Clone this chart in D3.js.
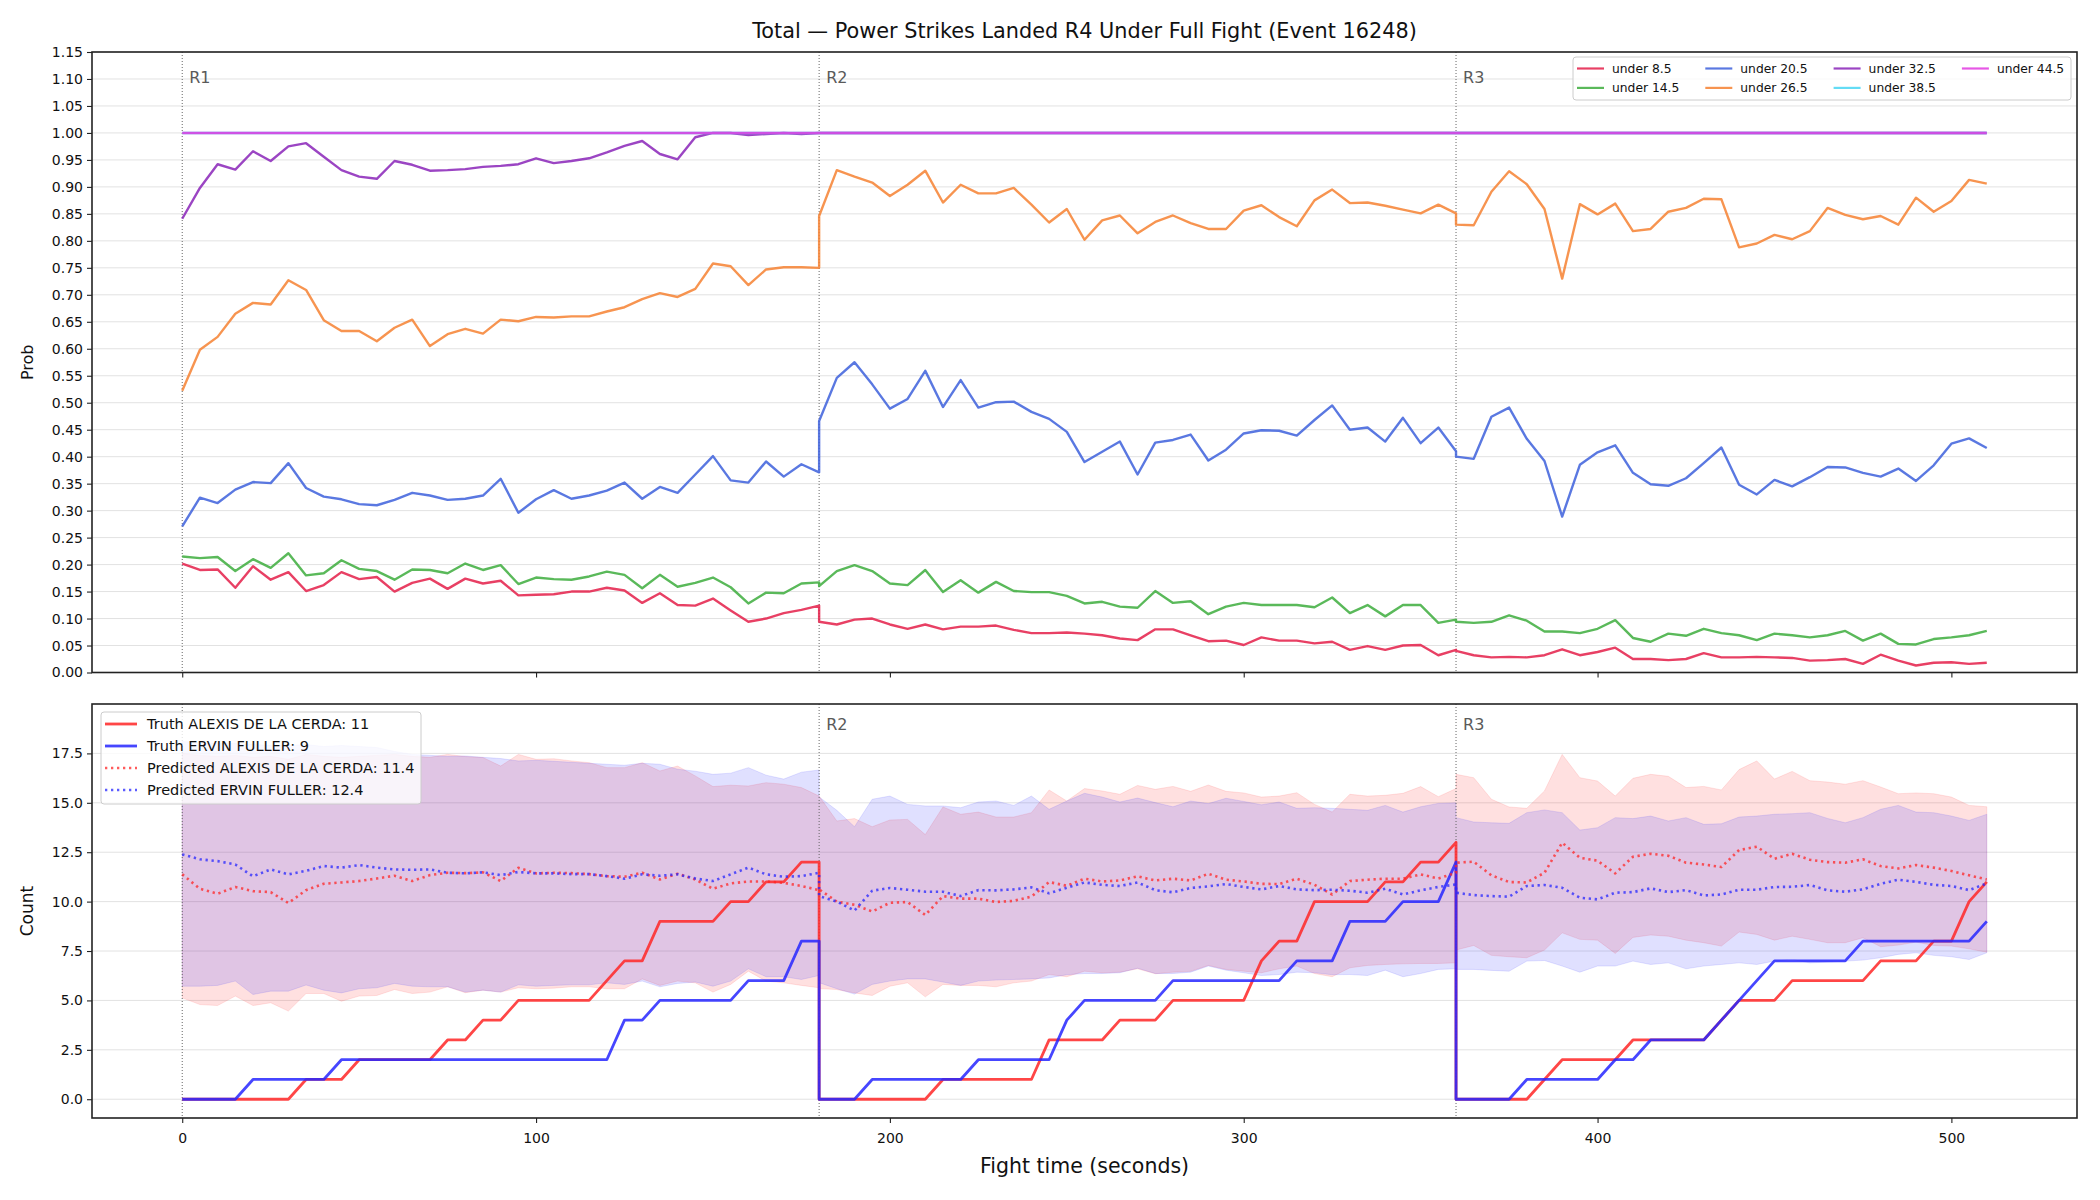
<!DOCTYPE html>
<html>
<head>
<meta charset="utf-8">
<script src="https://cdn.jsdelivr.net/npm/d3@7"></script>
<style>
  body { margin: 0; background: #fff; }
  svg { font-family: "DejaVu Sans", sans-serif; }
</style>
</head>
<body>
<svg id="chart" width="2100" height="1200"></svg>
<script>
// sample times (s); round boundaries appear twice so the reset is drawn as a vertical jump
const times = [
  0,5,10,15,20,25,30,35,40,45,50,55,60,65,70,75,80,85,90,95,100,105,110,115,120,125,130,135,140,145,150,155,160,165,170,175,180,
  180,185,190,195,200,205,210,215,220,225,230,235,240,245,250,255,260,265,270,275,280,285,290,295,300,305,310,315,320,325,330,335,340,345,350,355,360,
  360,365,370,375,380,385,390,395,400,405,410,415,420,425,430,435,440,445,450,455,460,465,470,475,480,485,490,495,500,505,510
];
const roundStarts = [0, 180, 360];
const roundLabels = ["R1", "R2", "R3"];
const timeTicks = [0, 100, 200, 300, 400, 500];
const probTicks = [0,0.05,0.1,0.15,0.2,0.25,0.3,0.35,0.4,0.45,0.5,0.55,0.6,0.65,0.7,0.75,0.8,0.85,0.9,0.95,1,1.05,1.1,1.15];
const countTicks = [0, 2.5, 5, 7.5, 10, 12.5, 15, 17.5];

// P(power strikes landed under threshold)
const under8_5 = [
  0.202,0.190,0.191,0.157,0.197,0.172,0.186,0.151,0.162,0.186,0.173,0.177,0.150,0.166,0.174,0.155,0.174,0.165,0.170,0.143,0.144,0.145,0.150,0.150,0.157,0.152,0.129,0.147,0.125,0.124,0.137,0.115,0.094,0.100,0.110,0.116,0.124,
  0.094,0.089,0.098,0.100,0.089,0.081,0.089,0.080,0.085,0.085,0.087,0.079,0.073,0.073,0.074,0.072,0.069,0.063,0.060,0.080,0.080,0.069,0.058,0.059,0.051,0.065,0.059,0.059,0.054,0.057,0.042,0.049,0.042,0.050,0.051,0.032,0.042,
  0.040,0.032,0.028,0.029,0.028,0.032,0.043,0.032,0.038,0.046,0.025,0.025,0.023,0.025,0.036,0.028,0.028,0.029,0.028,0.027,0.022,0.023,0.025,0.016,0.033,0.022,0.013,0.018,0.019,0.016,0.018
];
const under14_5 = [
  0.215,0.212,0.214,0.188,0.210,0.194,0.221,0.180,0.184,0.208,0.192,0.188,0.172,0.191,0.190,0.184,0.202,0.190,0.199,0.164,0.176,0.173,0.172,0.178,0.187,0.181,0.156,0.181,0.159,0.166,0.176,0.158,0.128,0.148,0.147,0.165,0.167,
  0.160,0.188,0.199,0.188,0.165,0.162,0.190,0.149,0.171,0.148,0.168,0.151,0.149,0.149,0.142,0.128,0.131,0.122,0.120,0.151,0.129,0.132,0.108,0.122,0.129,0.125,0.125,0.125,0.121,0.139,0.110,0.125,0.104,0.125,0.125,0.092,0.098,
  0.094,0.092,0.094,0.106,0.096,0.076,0.076,0.073,0.081,0.097,0.064,0.057,0.072,0.068,0.081,0.073,0.069,0.060,0.072,0.069,0.065,0.069,0.077,0.059,0.072,0.053,0.052,0.062,0.065,0.069,0.077
];
const under20_5 = [
  0.271,0.324,0.314,0.339,0.353,0.351,0.388,0.342,0.326,0.321,0.312,0.310,0.320,0.333,0.328,0.320,0.322,0.328,0.359,0.296,0.321,0.338,0.322,0.328,0.337,0.352,0.322,0.344,0.333,0.367,0.401,0.356,0.352,0.391,0.363,0.386,0.371,
  0.466,0.546,0.575,0.534,0.489,0.507,0.559,0.492,0.542,0.491,0.501,0.502,0.483,0.470,0.446,0.390,0.409,0.428,0.367,0.426,0.431,0.441,0.393,0.413,0.443,0.449,0.448,0.439,0.468,0.495,0.450,0.454,0.428,0.472,0.425,0.454,0.410,
  0.400,0.396,0.474,0.491,0.433,0.392,0.289,0.385,0.408,0.421,0.370,0.349,0.346,0.360,0.388,0.417,0.348,0.330,0.357,0.345,0.362,0.381,0.380,0.370,0.363,0.378,0.355,0.384,0.424,0.434,0.416
];
const under26_5 = [
  0.522,0.598,0.622,0.665,0.685,0.682,0.727,0.709,0.653,0.633,0.633,0.614,0.639,0.654,0.605,0.627,0.637,0.628,0.654,0.651,0.659,0.658,0.660,0.660,0.669,0.677,0.692,0.703,0.696,0.711,0.758,0.753,0.718,0.747,0.751,0.751,0.750,
  0.846,0.931,0.919,0.908,0.883,0.904,0.930,0.871,0.904,0.888,0.888,0.898,0.867,0.834,0.859,0.802,0.838,0.847,0.814,0.835,0.847,0.833,0.822,0.822,0.856,0.866,0.844,0.827,0.875,0.895,0.870,0.871,0.865,0.858,0.851,0.867,0.851,
  0.830,0.829,0.891,0.929,0.905,0.859,0.730,0.868,0.849,0.869,0.818,0.822,0.854,0.861,0.878,0.877,0.788,0.795,0.811,0.803,0.818,0.861,0.848,0.840,0.846,0.830,0.880,0.854,0.874,0.913,0.906
];
const under32_5 = [
  0.841,0.898,0.942,0.932,0.966,0.948,0.975,0.981,0.956,0.931,0.919,0.915,0.948,0.941,0.930,0.931,0.933,0.937,0.939,0.942,0.953,0.944,0.948,0.953,0.964,0.976,0.985,0.961,0.951,0.992,1.000,1.000,0.996,0.998,1.000,0.998,1.000,
  1,1,1,1,1,1,1,1,1,1,1,1,1,1,1,1,1,1,1,1,1,1,1,1,1,1,1,1,1,1,1,1,1,1,1,1,1,
  1,1,1,1,1,1,1,1,1,1,1,1,1,1,1,1,1,1,1,1,1,1,1,1,1,1,1,1,1,1,1
];
const under38_5 = [
  1,1,1,1,1,1,1,1,1,1,1,1,1,1,1,1,1,1,1,1,1,1,1,1,1,1,1,1,1,1,1,1,1,1,1,1,1,
  1,1,1,1,1,1,1,1,1,1,1,1,1,1,1,1,1,1,1,1,1,1,1,1,1,1,1,1,1,1,1,1,1,1,1,1,1,
  1,1,1,1,1,1,1,1,1,1,1,1,1,1,1,1,1,1,1,1,1,1,1,1,1,1,1,1,1,1,1
];
const under44_5 = [
  1,1,1,1,1,1,1,1,1,1,1,1,1,1,1,1,1,1,1,1,1,1,1,1,1,1,1,1,1,1,1,1,1,1,1,1,1,
  1,1,1,1,1,1,1,1,1,1,1,1,1,1,1,1,1,1,1,1,1,1,1,1,1,1,1,1,1,1,1,1,1,1,1,1,1,
  1,1,1,1,1,1,1,1,1,1,1,1,1,1,1,1,1,1,1,1,1,1,1,1,1,1,1,1,1,1,1
];

// cumulative counts per round
const truthAlexis = [
  0,0,0,0,0,0,0,1,1,1,2,2,2,2,2,3,3,4,4,5,5,5,5,5,6,7,7,9,9,9,9,10,10,11,11,12,12,
  0,0,0,0,0,0,0,1,1,1,1,1,1,3,3,3,3,4,4,4,5,5,5,5,5,7,8,8,10,10,10,10,11,11,12,12,13,
  0,0,0,0,0,1,2,2,2,2,3,3,3,3,3,4,5,5,5,6,6,6,6,6,7,7,7,8,8,10,11
];
const truthErvin = [
  0,0,0,0,1,1,1,1,1,2,2,2,2,2,2,2,2,2,2,2,2,2,2,2,2,4,4,5,5,5,5,5,6,6,6,8,8,
  0,0,0,1,1,1,1,1,1,2,2,2,2,2,4,5,5,5,5,5,6,6,6,6,6,6,6,7,7,7,9,9,9,10,10,10,12,
  0,0,0,0,1,1,1,1,1,2,2,3,3,3,3,4,5,6,7,7,7,7,7,8,8,8,8,8,8,8,9
];
const predAlexis = [
  11.38,10.65,10.4,10.74,10.53,10.48,9.93,10.58,10.9,10.97,11.04,11.17,11.31,11.04,11.34,11.46,11.44,11.48,11.04,11.71,11.43,11.46,11.44,11.39,11.29,11.26,11.46,11.12,11.41,11.12,10.65,10.92,11.02,11.02,10.95,10.79,10.58,
  10.62,10.0,9.84,9.5,9.94,9.98,9.32,10.28,10.15,10.15,9.98,10.04,10.25,10.99,10.8,11.16,11.02,11.07,11.28,11.07,11.16,11.07,11.41,11.11,11.02,10.9,10.89,11.16,10.85,10.36,11.04,11.11,11.16,11.16,11.38,11.17,11.46,
  11.97,12.02,11.33,10.99,10.97,11.46,12.98,12.22,12.07,11.43,12.27,12.42,12.32,11.97,11.88,11.75,12.61,12.78,12.17,12.42,12.12,12.0,11.97,12.14,11.8,11.68,11.85,11.72,11.55,11.33,11.12
];
const predErvin = [
  12.39,12.14,12.05,11.88,11.28,11.63,11.38,11.56,11.8,11.72,11.85,11.72,11.63,11.61,11.63,11.46,11.43,11.48,11.34,11.5,11.43,11.43,11.39,11.39,11.29,11.16,11.38,11.31,11.38,11.17,11.04,11.38,11.72,11.38,11.26,11.29,11.46,
  10.28,10.0,9.55,10.55,10.69,10.6,10.5,10.5,10.28,10.58,10.57,10.62,10.72,10.42,10.7,10.97,10.85,10.79,10.97,10.58,10.47,10.69,10.77,10.89,10.74,10.62,10.79,10.62,10.58,10.6,10.55,10.45,10.65,10.36,10.57,10.74,10.87,
  10.45,10.33,10.28,10.25,10.79,10.84,10.7,10.2,10.11,10.45,10.48,10.67,10.48,10.58,10.31,10.36,10.6,10.6,10.74,10.75,10.84,10.57,10.5,10.62,10.9,11.11,11.0,10.85,10.79,10.58,10.92
];
const alexisHigh = [
  17.5,17.4,17.35,17.4,17.3,17.35,17.2,17.45,17.35,17.3,17.35,17.4,17.45,17.35,17.3,17.45,17.34,17.29,16.86,17.45,17.2,17.23,17.12,17.03,16.78,16.78,17.03,16.61,16.86,16.36,15.82,15.89,15.85,16.02,15.94,15.77,15.34,
  15.34,14.08,14.2,13.79,14.13,14.16,13.39,14.79,14.42,14.53,14.28,14.28,14.5,15.65,15.09,15.72,15.6,15.43,15.88,15.68,15.83,15.58,15.9,15.58,15.5,15.29,15.34,15.51,14.92,14.53,15.43,15.34,15.38,15.48,15.82,15.31,15.72,
  16.44,16.27,15.18,14.79,14.72,15.6,17.45,16.27,16.1,15.34,16.24,16.44,16.34,15.77,15.83,15.65,16.68,17.12,16.2,16.59,16.12,16.05,15.94,16.12,15.8,15.46,15.5,15.46,15.29,14.87,14.8
];
const alexisLow = [
  5.13,4.79,4.74,5.22,4.74,4.88,4.46,5.35,5.35,4.96,5.22,5.25,5.55,5.35,5.42,5.69,5.39,5.52,5.42,5.64,5.59,5.62,5.69,5.69,5.59,5.59,6.09,5.76,5.98,5.89,5.42,5.81,6.48,5.98,5.89,5.76,5.64,
  5.6,5.55,5.38,5.25,5.72,5.89,5.18,5.81,5.76,5.76,5.69,5.89,5.98,6.31,6.2,6.48,6.4,6.43,6.6,6.35,6.43,6.47,6.77,6.57,6.48,6.4,6.6,6.74,6.36,6.2,6.65,6.77,6.82,6.85,6.87,6.87,6.9,
  7.55,7.78,7.28,7.21,7.16,7.55,8.42,8.09,8.05,7.38,8.19,8.31,8.25,8.05,7.92,7.75,8.46,8.34,8.05,8.25,8.09,7.92,7.92,8.17,7.72,7.8,7.95,7.78,7.75,7.61,7.44
];
const ervinHigh = [
  18.1,18.05,18.0,18.0,17.95,17.9,17.9,17.95,17.85,17.9,17.85,17.8,17.6,17.45,17.4,17.35,17.37,17.3,17.24,17.12,17.15,17.1,17.05,17.0,16.95,16.9,17.0,16.95,16.7,16.6,16.44,16.5,16.78,16.4,16.2,16.55,16.66,
  15.3,14.62,13.79,15.18,15.34,14.92,14.84,14.84,14.75,15.04,15.09,14.87,15.34,14.67,15.09,15.48,15.29,15.04,15.24,15.01,14.8,15.09,14.96,15.23,15.07,14.9,15.04,14.72,14.75,14.72,14.67,14.62,14.87,14.53,14.8,14.97,15.0,
  14.25,14.03,13.99,13.96,14.5,14.64,14.5,13.62,13.74,14.25,14.2,14.33,14.08,14.25,13.91,13.94,14.28,14.33,14.42,14.45,14.5,14.21,13.99,14.25,14.67,14.87,14.53,14.5,14.33,14.11,14.42
];
const ervinLow = [
  5.72,5.72,5.76,5.98,5.3,5.47,5.47,5.78,5.52,5.38,5.59,5.64,5.86,5.72,5.69,5.69,5.42,5.52,5.42,5.79,5.72,5.76,5.79,5.79,5.89,5.81,5.98,5.69,5.86,5.93,5.72,5.98,6.6,6.2,6.2,6.06,6.26,
  5.9,5.59,5.32,5.81,5.98,6.09,6.09,5.93,5.76,5.98,6.03,6.06,6.09,6.14,6.3,6.36,6.36,6.4,6.63,6.36,6.36,6.43,6.74,6.53,6.4,6.26,6.31,6.43,6.4,6.3,6.31,6.26,6.53,6.2,6.36,6.57,6.6,
  6.57,6.57,6.52,6.48,6.99,7.02,6.74,6.43,6.74,6.74,6.99,6.82,6.9,6.6,6.74,6.82,6.9,6.82,6.99,7.07,6.9,6.94,6.99,7.04,7.16,7.33,7.41,7.28,7.21,7.07,7.41
];

const probSeries = [
  { label: "under 8.5",  values: under8_5,  color: "#e41e49" },
  { label: "under 14.5", values: under14_5, color: "#3dad3d" },
  { label: "under 20.5", values: under20_5, color: "#3d60dc" },
  { label: "under 26.5", values: under26_5, color: "#f68131" },
  { label: "under 32.5", values: under32_5, color: "#8925b8" },
  { label: "under 38.5", values: under38_5, color: "#49d6f3" },
  { label: "under 44.5", values: under44_5, color: "#e23ae0" }
];

const RED = "#ff2626", BLUE = "#2626ff";

const svg = d3.select("#chart");
const left = 92, right = 2077;
const topBox = { top: 52, bottom: 672.5 };
const botBox = { top: 704, bottom: 1118 };

const x = d3.scaleLinear().domain([-25.5, 535.5]).range([left, right]);
const yProb = d3.scaleLinear().domain([0, 1.15]).range([topBox.bottom, topBox.top]);
const yCount = d3.scaleLinear().domain([-0.95, 20.0]).range([botBox.bottom, botBox.top]);

svg.append("rect").attr("width", 2100).attr("height", 1200).attr("fill", "#fff");

function styleAxis(g) {
  g.select(".domain").remove();
  g.selectAll(".tick line").attr("stroke", "#222").attr("stroke-width", 1.1);
  g.selectAll(".tick text").attr("fill", "#111").style("font-size", "14px")
    .style("font-family", "'DejaVu Sans', sans-serif");
}

function drawFrame(box, y, ticks, fmt) {
  // horizontal grid
  svg.append("g").selectAll("line").data(ticks).enter().append("line")
    .attr("x1", left).attr("x2", right)
    .attr("y1", d => y(d)).attr("y2", d => y(d))
    .attr("stroke", "#e2e2e2").attr("stroke-width", 1);

  svg.append("g").attr("transform", `translate(${left},0)`)
    .call(d3.axisLeft(y).tickValues(ticks).tickFormat(fmt).tickSize(5).tickPadding(4))
    .call(styleAxis);
}

function roundMarks(box, labelDy, firstLabel) {
  svg.append("g").selectAll("line").data(roundStarts).enter().append("line")
    .attr("x1", d => x(d)).attr("x2", d => x(d))
    .attr("y1", box.top).attr("y2", box.bottom)
    .attr("stroke", "#666").attr("stroke-width", 1).attr("stroke-dasharray", "1,2");
  svg.append("g").selectAll("text").data(roundStarts.slice(firstLabel)).enter().append("text")
    .attr("x", d => x(d) + 7).attr("y", box.top + labelDy)
    .attr("fill", "#5a5a5a").style("font-size", "16px")
    .text((d, i) => roundLabels[i + firstLabel]);
}

// ---------- top panel ----------
drawFrame(topBox, yProb, probTicks, d3.format(".2f"));
roundMarks(topBox, 31, 0);

const probLine = d3.line().x((d, i) => x(times[i])).y(d => yProb(d));
svg.append("g").selectAll("path").data(probSeries).enter().append("path")
  .attr("d", d => probLine(d.values))
  .attr("fill", "none").attr("stroke", d => d.color)
  .attr("stroke-opacity", 0.85).attr("stroke-width", 2.4)
  .attr("stroke-linejoin", "round");

svg.append("g").attr("transform", `translate(0,${topBox.bottom})`)
  .call(d3.axisBottom(x).tickValues(timeTicks).tickFormat("").tickSize(5))
  .call(styleAxis);

svg.append("rect").attr("x", left).attr("y", topBox.top)
  .attr("width", right - left).attr("height", topBox.bottom - topBox.top)
  .attr("fill", "none").attr("stroke", "#222").attr("stroke-width", 1.6);

// top legend
const tLeg = svg.append("g");
tLeg.append("rect").attr("x", 1573).attr("y", 57).attr("width", 498).attr("height", 43)
  .attr("rx", 3).attr("fill", "#fff").attr("fill-opacity", 0.8)
  .attr("stroke", "#cccccc").attr("stroke-width", 1);
probSeries.forEach((s, i) => {
  const col = Math.floor(i / 2), row = i % 2;
  const lx = 1577 + col * 128.3, ly = 68.5 + row * 19.4;
  tLeg.append("line").attr("x1", lx).attr("x2", lx + 27).attr("y1", ly).attr("y2", ly)
    .attr("stroke", s.color).attr("stroke-opacity", 0.85).attr("stroke-width", 2.2);
  tLeg.append("text").attr("x", lx + 35).attr("y", ly + 4.4)
    .style("font-size", "12.3px").attr("fill", "#111").text(s.label);
});

// ---------- bottom panel ----------
drawFrame(botBox, yCount, countTicks, d3.format(".1f"));

const band = (lo, hi) => d3.area()
  .x((d, i) => x(times[i]))
  .y0((d, i) => yCount(lo[i]))
  .y1((d, i) => yCount(hi[i]))(times);

svg.append("path").attr("d", band(alexisLow, alexisHigh))
  .attr("fill", RED).attr("fill-opacity", 0.14)
  .attr("stroke", RED).attr("stroke-opacity", 0.12).attr("stroke-width", 1);
svg.append("path").attr("d", band(ervinLow, ervinHigh))
  .attr("fill", BLUE).attr("fill-opacity", 0.14)
  .attr("stroke", BLUE).attr("stroke-opacity", 0.12).attr("stroke-width", 1);

// R1 label sits under the legend in the bottom panel, so only R2/R3 are written
roundMarks(botBox, 26, 1);

const countLine = d3.line().x((d, i) => x(times[i])).y(d => yCount(d));
const countSeries = [
  { label: "Truth ALEXIS DE LA CERDA: 11", values: truthAlexis, color: RED, dash: null, w: 2.8, op: 0.85 },
  { label: "Truth ERVIN FULLER: 9", values: truthErvin, color: BLUE, dash: null, w: 2.8, op: 0.85 },
  { label: "Predicted ALEXIS DE LA CERDA: 11.4", values: predAlexis, color: RED, dash: "2.3,3.7", w: 2.6, op: 0.75 },
  { label: "Predicted ERVIN FULLER: 12.4", values: predErvin, color: BLUE, dash: "2.3,3.7", w: 2.6, op: 0.75 }
];
svg.append("g").selectAll("path").data(countSeries).enter().append("path")
  .attr("d", d => countLine(d.values))
  .attr("fill", "none").attr("stroke", d => d.color)
  .attr("stroke-opacity", d => d.op).attr("stroke-width", d => d.w)
  .attr("stroke-dasharray", d => d.dash)
  .attr("stroke-linejoin", "round");

svg.append("g").attr("transform", `translate(0,${botBox.bottom})`)
  .call(d3.axisBottom(x).tickValues(timeTicks).tickFormat(d3.format("d")).tickSize(5).tickPadding(10))
  .call(styleAxis);

svg.append("rect").attr("x", left).attr("y", botBox.top)
  .attr("width", right - left).attr("height", botBox.bottom - botBox.top)
  .attr("fill", "none").attr("stroke", "#222").attr("stroke-width", 1.6);

// bottom legend
const bLeg = svg.append("g");
bLeg.append("rect").attr("x", 101).attr("y", 712).attr("width", 320).attr("height", 92)
  .attr("rx", 3).attr("fill", "#fff").attr("fill-opacity", 0.8)
  .attr("stroke", "#cccccc").attr("stroke-width", 1);
countSeries.forEach((s, i) => {
  const ly = 724 + i * 22;
  bLeg.append("line").attr("x1", 105).attr("x2", 137).attr("y1", ly).attr("y2", ly)
    .attr("stroke", s.color).attr("stroke-opacity", s.op).attr("stroke-width", s.w)
    .attr("stroke-dasharray", s.dash);
  bLeg.append("text").attr("x", 147).attr("y", ly + 5.2)
    .style("font-size", "14.5px").attr("fill", "#111").text(s.label);
});

// ---------- titles ----------
svg.append("text").attr("x", (left + right) / 2).attr("y", 38)
  .attr("text-anchor", "middle").style("font-size", "20.8px").attr("fill", "#111")
  .text("Total — Power Strikes Landed R4 Under Full Fight (Event 16248)");
svg.append("text").attr("x", (left + right) / 2).attr("y", 1173)
  .attr("text-anchor", "middle").style("font-size", "20.5px").attr("fill", "#111")
  .text("Fight time (seconds)");
svg.append("text").attr("transform", `translate(33,${(topBox.top + topBox.bottom) / 2}) rotate(-90)`)
  .attr("text-anchor", "middle").style("font-size", "16px").attr("fill", "#111").text("Prob");
svg.append("text").attr("transform", `translate(33,${(botBox.top + botBox.bottom) / 2}) rotate(-90)`)
  .attr("text-anchor", "middle").style("font-size", "17px").attr("fill", "#111").text("Count");
</script>
</body>
</html>
